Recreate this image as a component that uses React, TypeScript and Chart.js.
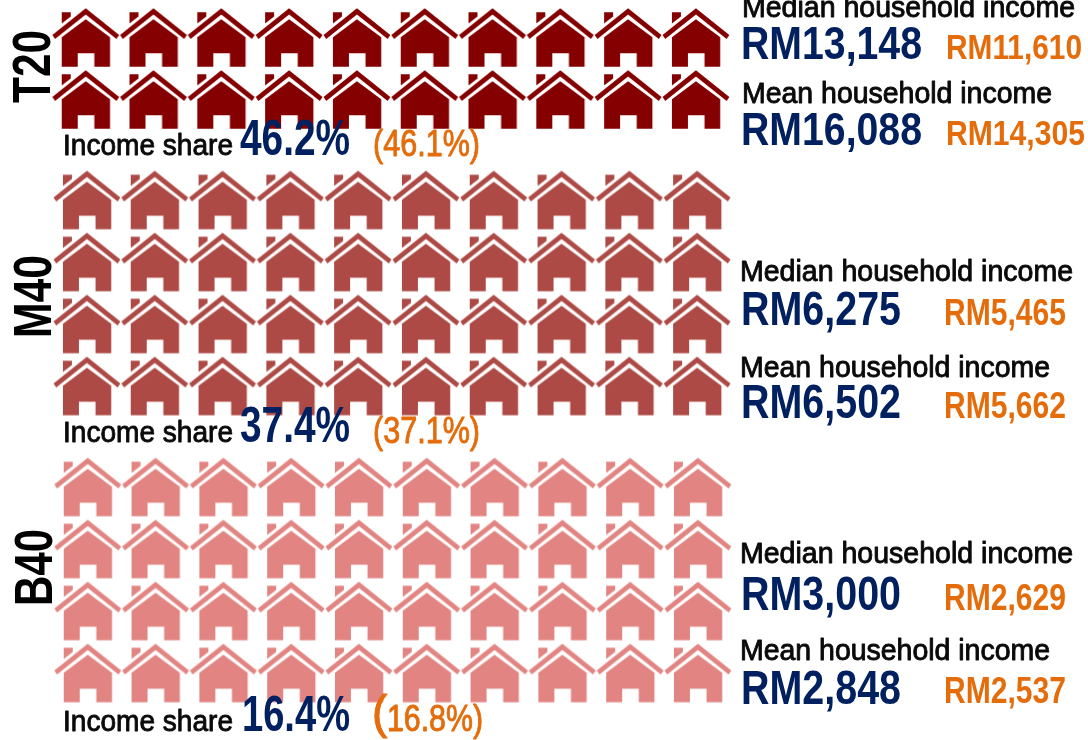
import React, { useEffect, useRef } from "react";
import { Chart, registerables } from "chart.js";

Chart.register(...registerables);

// ---- data ----
const groups = ["T20", "M40", "B40"];
const households = [20, 40, 40];
const housesPerRow = 10;
const groupRowStart = [0, 2.62, 7.25];
const groupColShift = [0, 0.018, 0.03];
const groupColors = ["#850000", "#AE4A45", "#E28582"];
const medianNow = [13148, 6275, 3000];
const medianPrev = [11610, 5465, 2629];
const meanNow = [16088, 6502, 2848];
const meanPrev = [14305, 5662, 2537];
const shareNow = [46.2, 37.4, 16.4];
const sharePrev = [46.1, 37.1, 16.8];

const medianTitle = "Median household income";
const meanTitle = "Mean household income";
const shareTitle = "Income share";

// ---- layout (pixels) ----
const W = 1088;
const H = 740;
const colOrigin = 85.7;
const colPitch = 67.8;
const rowOrigin = 38;
const rowPitch = 62;
const FONT = '"Liberation Sans", Arial, sans-serif';
const NAVY = "#002060";
const ORANGE = "#E46C0A";
const INK = "#0A0A0A";

const sideX = [742, 740, 740];
const valueX = [741, 741, 741];
const prevX = [946, 944, 944];
const medianTitleY = [17, 281, 563];
const medianValueY = [59, 325, 610];
const medianPrevY = [59, 325, 610];
const meanTitleY = [103, 377, 660];
const meanValueY = [145, 418, 704];
const meanPrevY = [145, 418, 703];
const valuePx = [46, 48, 48];
const prevPx = [35, 37, 37];
const shareY = [155, 442, 731];
const shareX = [240, 240, 242];
const labelStart = [103, 338, 606];
const labelLen = [73, 83, 77];
const labelX = [50, 51, 52];

const rm = (v: number) => "RM" + v.toLocaleString("en-US");

function houseIcon(color: string): HTMLCanvasElement {
  const c = document.createElement("canvas");
  c.width = 68;
  c.height = 62;
  const g = c.getContext("2d") as CanvasRenderingContext2D;
  const poly = (pts: number[][]) => {
    g.beginPath();
    pts.forEach(([x, y], i) => (i ? g.lineTo(x, y) : g.moveTo(x, y)));
    g.closePath();
    g.fill();
  };
  g.fillStyle = color;
  g.translate(34 - 85.7, 31 - 38);
  poly([[85.7, 8.3], [119.1, 34.9], [116.4, 39], [85.7, 14.6], [55, 39], [52.3, 34.9]]);
  poly([[61.7, 12.3], [70.7, 12.3], [70.7, 16.4], [61.7, 23.4]]);
  poly([
    [85.7, 19.3], [110, 37.3], [110, 66.8], [94.3, 66.8], [94.3, 53.3],
    [77.7, 53.3], [77.7, 66.8], [61.7, 66.8], [61.7, 37.3],
  ]);
  return c;
}

function housePoints(groupIndex: number) {
  const pts: { x: number; y: number }[] = [];
  const rows = households[groupIndex] / housesPerRow;
  for (let r = 0; r < rows; r++)
    for (let col = 0; col < housesPerRow; col++)
      pts.push({ x: col + groupColShift[groupIndex], y: groupRowStart[groupIndex] + r });
  return pts;
}

const textPlugin = {
  id: "textPlugin",
  afterDatasetsDraw(chart: Chart) {
    const ctx = chart.ctx;
    const put = (
      t: string, x: number, y: number, px: number, bold: boolean,
      color: string, w?: number, stroke = 0,
    ) => {
      ctx.font = `${bold ? "bold " : ""}${px}px ${FONT}`;
      ctx.fillStyle = color;
      ctx.textAlign = "left";
      ctx.textBaseline = "alphabetic";
      ctx.fillText(t, x, y, w);
      if (stroke > 0) {
        ctx.strokeStyle = color;
        ctx.lineWidth = stroke;
        ctx.lineJoin = "round";
        ctx.strokeText(t, x, y, w);
      }
    };
    ctx.save();
    groups.forEach((label, i) => {
      const x = sideX[i];
      put(medianTitle, x, medianTitleY[i], 29, false, INK, 333, 0.9);
      put(rm(medianNow[i]), valueX[i], medianValueY[i], valuePx[i], true, NAVY, medianNow[i] > 9999 ? 181 : 160);
      put(rm(medianPrev[i]), prevX[i], medianPrevY[i], prevPx[i], true, ORANGE, medianPrev[i] > 9999 ? 136 : 122);
      put(meanTitle, x, meanTitleY[i], 29, false, INK, 310, 0.9);
      put(rm(meanNow[i]), valueX[i], meanValueY[i], valuePx[i], true, NAVY, meanNow[i] > 9999 ? 181 : 160);
      put(rm(meanPrev[i]), prevX[i], meanPrevY[i], prevPx[i], true, ORANGE, meanPrev[i] > 9999 ? 139 : 122);
      put(shareTitle, 63, shareY[i], 30, false, INK, 170, 0.9);
      put(`${shareNow[i].toFixed(1)}%`, shareX[i], shareY[i], 50, true, NAVY, 350 - shareX[i]);
      const prev = `${sharePrev[i].toFixed(1)}%)`;
      if (i === 2) {
        put("(", 372, shareY[i] - 3, 46, false, ORANGE, undefined, 1);
        put(prev, 387, shareY[i], 37, false, ORANGE, 96, 0.9);
      } else {
        put("(" + prev, 373, shareY[i] + 1, 36, false, ORANGE, 107, 0.9);
      }
      ctx.save();
      ctx.translate(labelX[i], labelStart[i]);
      ctx.rotate(-Math.PI / 2);
      put(label, 0, 0, 54, true, "#000000", labelLen[i]);
      ctx.restore();
    });
    ctx.restore();
  },
};

export default function App() {
  const ref = useRef<HTMLCanvasElement>(null);
  useEffect(() => {
    if (!ref.current) return;
    const chart = new Chart(ref.current, {
      type: "scatter",
      data: {
        datasets: groups.map((g, i) => ({
          label: g,
          data: housePoints(i),
          pointStyle: houseIcon(groupColors[i]) as any,
          pointRadius: 30,
          clip: false as any,
        })),
      },
      options: {
        animation: false,
        responsive: false,
        events: [],
        layout: { padding: 0, autoPadding: false },
        plugins: { legend: { display: false }, tooltip: { enabled: false }, title: { display: false } },
        scales: {
          x: {
            type: "linear",
            display: false,
            min: -colOrigin / colPitch,
            max: (W - colOrigin) / colPitch,
          },
          y: {
            type: "linear",
            display: false,
            reverse: true,
            min: -rowOrigin / rowPitch,
            max: (H - rowOrigin) / rowPitch,
          },
        },
      },
      plugins: [textPlugin],
    });
    return () => chart.destroy();
  }, []);
  return (
    <div style={{ position: "fixed", left: 0, top: 0, width: W, height: H, overflow: "hidden", background: "#fff" }}>
      <canvas ref={ref} width={W} height={H} style={{ display: "block" }} />
    </div>
  );
}
